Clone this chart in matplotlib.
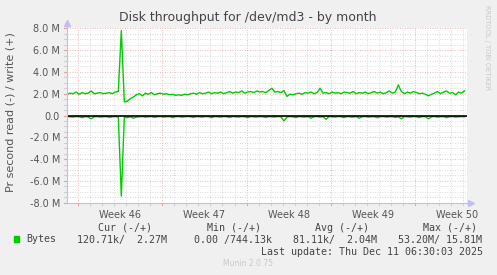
import numpy as np
import matplotlib.pyplot as plt

# chart texts
title = "Disk throughput for /dev/md3 - by month"
ylabel = "Pr second read (-) / write (+)"
week_labels = ["Week 46", "Week 47", "Week 48", "Week 49", "Week 50"]
week_starts = [0, 7, 14, 21, 28]  # days, Monday of each week
y_ticks = [-8, -6, -4, -2, 0, 2, 4, 6, 8]
y_tick_labels = ["-8.0 M", "-6.0 M", "-4.0 M", "-2.0 M", "0.0", "2.0 M", "4.0 M", "6.0 M", "8.0 M"]

# sample spacing (days) and first sample
t_first = -0.9
t_step = 0.25

# write (+), MB/s
write_mb = [
    1.95, 2.05, 2.00, 2.15, 1.95, 2.10, 2.00, 2.05, 2.25, 2.00,
    2.05, 2.10, 2.00, 2.05, 2.10, 2.00, 2.15, 2.20, 7.80, 1.25,
    1.30, 1.55, 1.70, 1.90, 2.00, 1.80, 2.05, 1.95, 2.10, 1.90,
    2.00, 2.05, 1.95, 2.00, 1.90, 1.95, 1.85, 1.90, 1.85, 1.95,
    1.90, 2.00, 2.05, 1.95, 2.10, 2.00, 2.05, 2.15, 2.00, 2.10,
    2.05, 2.15, 2.00, 2.10, 2.20, 2.05, 2.15, 2.10, 2.25, 2.05,
    2.15, 2.20, 2.10, 2.25, 2.15, 2.20, 2.10, 2.30, 2.50, 2.15,
    2.20, 2.10, 2.30, 1.75, 1.95, 1.90, 2.00, 2.05, 1.95, 2.10,
    2.05, 2.15, 2.00, 2.10, 2.50, 2.05, 2.10, 2.00, 2.15, 2.05,
    2.10, 2.00, 2.15, 2.10, 2.05, 2.20, 2.00, 2.10, 2.05, 2.15,
    2.00, 2.10, 2.20, 2.05, 2.15, 2.00, 2.10, 2.25, 2.05, 2.15,
    2.80, 2.20, 2.00, 2.15, 2.05, 2.20, 2.10, 2.00, 2.05, 1.95,
    1.80, 1.95, 2.05, 2.20, 2.00, 2.15, 2.25, 2.05, 2.10, 1.90,
    2.15, 2.05, 2.27,
]

# read (-), MB/s, drawn below zero
read_mb = [
    0.10, 0.12, 0.15, 0.10, 0.12, 0.20, 0.10, 0.15, 0.30, 0.12,
    0.10, 0.15, 0.12, 0.10, 0.18, 0.12, 0.10, 0.15, 7.40, 0.15,
    0.20, 0.12, 0.25, 0.15, 0.12, 0.10, 0.15, 0.12, 0.10, 0.18,
    0.12, 0.10, 0.15, 0.12, 0.10, 0.20, 0.12, 0.10, 0.15, 0.12,
    0.10, 0.12, 0.18, 0.10, 0.12, 0.15, 0.10, 0.12, 0.20, 0.10,
    0.12, 0.15, 0.10, 0.12, 0.18, 0.10, 0.12, 0.15, 0.10, 0.12,
    0.20, 0.10, 0.12, 0.15, 0.10, 0.12, 0.18, 0.10, 0.12, 0.15,
    0.10, 0.12, 0.50, 0.15, 0.10, 0.12, 0.20, 0.10, 0.12, 0.15,
    0.10, 0.25, 0.12, 0.10, 0.15, 0.12, 0.35, 0.10, 0.12, 0.15,
    0.10, 0.12, 0.20, 0.10, 0.12, 0.15, 0.10, 0.25, 0.12, 0.10,
    0.15, 0.12, 0.10, 0.20, 0.12, 0.10, 0.15, 0.12, 0.10, 0.18,
    0.12, 0.30, 0.10, 0.12, 0.15, 0.10, 0.12, 0.20, 0.10, 0.12,
    0.30, 0.12, 0.10, 0.15, 0.12, 0.10, 0.20, 0.12, 0.10, 0.15,
    0.12, 0.10, 0.12,
]

# legend table
legend_name = "Bytes"
legend_heads = ["Cur (-/+)", "Min (-/+)", "Avg (-/+)", "Max (-/+)"]
legend_vals = ["120.71k/  2.27M", "0.00 /744.13k", "81.11k/  2.04M", "53.20M/ 15.81M"]
last_update = "Last update: Thu Dec 11 06:30:03 2025"

W, H = 497, 275
GREEN = "#00CC00"
TXT = "#555555"
AXC = "#C0C0F0"
MAJ = "#E8A0A0"
MIN = "#CFCFCF"

fig = plt.figure(figsize=(W / 100, H / 100), dpi=100, facecolor="#F0F0F0")
ax = fig.add_axes([67 / W, 1 - 202.7 / H, 400 / W, 174.4 / H])
ax.set_facecolor("white")

t = t_first + t_step * np.arange(len(write_mb))
ax.set_xlim(-0.91, 32.3)
ax.set_ylim(-8, 8)

# grid (munin style: grey minor, red major, dotted) + small ticks outside
xt = ax.get_xaxis_transform()
yt = ax.get_yaxis_transform()
for d in range(0, 33):
    c = MAJ if d in week_starts else MIN
    ax.axvline(d, color=c, lw=0.6, ls=(0, (1, 2)), zorder=1)
    ax.plot([d, d], [0, -0.015], color=c, lw=0.8, transform=xt, clip_on=False)
for v in np.arange(-8, 8.01, 0.5):
    c = MAJ if v % 2 == 0 else MIN
    ax.axhline(v, color=c, lw=0.6, ls=(0, (1, 2)), zorder=1)
    ax.plot([0, -0.008], [v, v], color=c, lw=0.8, transform=yt, clip_on=False)

ax.plot(t, write_mb, color=GREEN, lw=1, zorder=3)
ax.plot(t, -np.array(read_mb), color=GREEN, lw=1, zorder=3)
ax.axhline(0, color="black", lw=1.2, zorder=4)

# ticks
ax.set_yticks(y_ticks, y_tick_labels)
week_mid = [w + 3.5 for w in week_starts]
ax.set_xticks(week_mid, week_labels)
ax.tick_params(length=0, labelsize=7, labelcolor=TXT, pad=5)

for s in ["top", "right"]:
    ax.spines[s].set_visible(False)
for s in ["left", "bottom"]:
    ax.spines[s].set_color(AXC)
    ax.spines[s].set_linewidth(0.8)
    ax.spines[s].set_zorder(5)
# axis arrows
ax.plot([0], [1.03], marker="^", color=AXC, ms=4, transform=ax.transAxes, clip_on=False)
ax.plot([1.01], [0], marker=">", color=AXC, ms=4, transform=ax.transAxes, clip_on=False)
ax.plot([0, 0], [1.0, 1.03], color=AXC, lw=0.8, transform=ax.transAxes, clip_on=False)
ax.plot([1.0, 1.01], [0, 0], color=AXC, lw=0.8, transform=ax.transAxes, clip_on=False)

def px(x, y):
    return x / W, 1 - y / H

fig.text(*px(248, 18), title, ha="center", va="center", fontsize=9, color="#444444")
fig.text(*px(10.5, 112), ylabel, ha="center", va="center", rotation=90, fontsize=8, color=TXT)
fig.text(*px(487, 5), "RRDTOOL / TOBI OETIKER", ha="center", va="top", rotation=270,
         fontsize=4.8, color="#C8C8C8")

mono = dict(family="DejaVu Sans Mono", fontsize=7.2, color="#444444", va="center")
head_x = [98, 207, 315, 423]
val_x = [77, 194, 293, 398]
for hx, h in zip(head_x, legend_heads):
    fig.text(*px(hx, 228), h, ha="left", **mono)
fig.patches.append(plt.Rectangle(px(14, 242), 5 / W, 6 / H, transform=fig.transFigure,
                                 color=GREEN))
fig.text(*px(26, 239.5), legend_name, ha="left", **mono)
for vx, v in zip(val_x, legend_vals):
    fig.text(*px(vx, 239.5), v, ha="left", **mono)
fig.text(*px(483, 252), last_update, ha="right", **mono)
fig.text(*px(248, 264), "Munin 2.0.75", ha="center", va="center", fontsize=5.5, color="#C8C8C8")

fig.savefig("out.png", dpi=100, facecolor=fig.get_facecolor())
